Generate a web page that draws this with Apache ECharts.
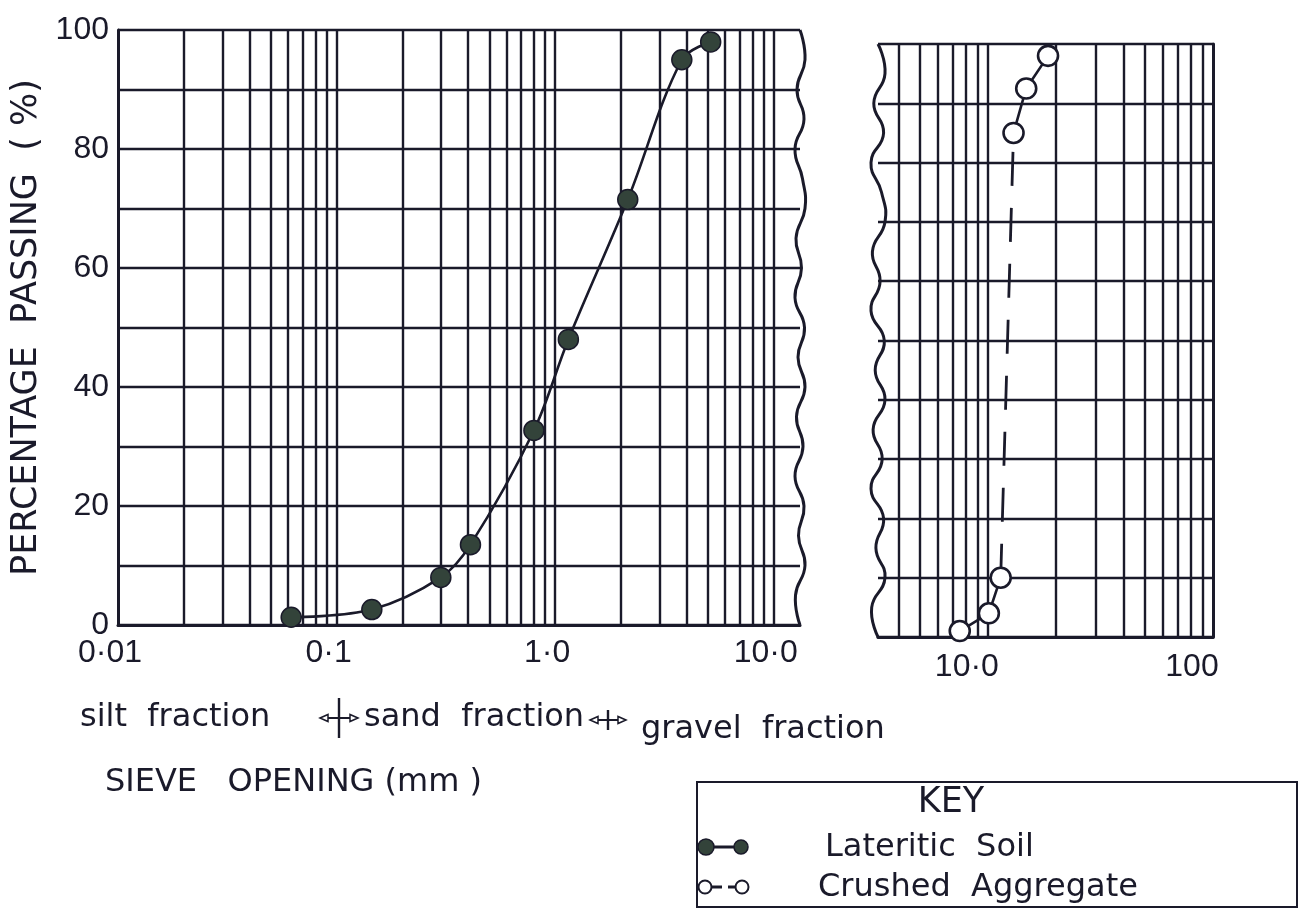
<!DOCTYPE html>
<html>
<head>
<meta charset="utf-8">
<script src="https://cdn.jsdelivr.net/npm/echarts@6/dist/echarts.min.js"></script>
<style>
html,body{margin:0;padding:0;background:#fff;}
#chart{width:1308px;height:920px;}
</style>
</head>
<body>
<div id="chart"></div>
<script>
// ---- data ----
const lateriticSize = [0.062, 0.145, 0.3, 0.41, 0.8, 1.15, 2.15, 3.8, 5.15];      // sieve opening (mm)
const lateriticPassing = [1.3, 2.6, 8, 13.5, 32.7, 48, 71.5, 95, 98];             // % passing
const aggregateSize = [7.5, 10.1, 11.4, 13.0, 14.8, 18.5];                        // sieve opening (mm)
const aggregatePassing = [1, 4, 10, 85, 92.5, 98];                                // % passing

// axis ticks / labels
const leftTickValues = [0.01, 0.1, 1, 10];
const leftTickLabels = ['0·01', '0·1', '1·0', '10·0'];
const rightTickValues = [10, 100];
const rightTickLabels = ['10·0', '100'];
const yLabelValues = [0, 20, 40, 60, 80, 100];
// vertical grid lines of the log paper
const leftGridLines = [0.02, 0.03, 0.04, 0.05, 0.06, 0.07, 0.08, 0.09, 0.1,
  0.2, 0.3, 0.4, 0.5, 0.6, 0.7, 0.8, 0.9, 1, 2, 3, 4, 5, 6, 7, 8, 9, 10];
const rightGridLines = [4, 5, 6, 7, 8, 9, 10, 20, 30, 40, 50, 60, 70, 80, 90];
// axis extents (broken axis)
const leftMin = 0.01, leftMax = 13.2;
const rightMin = 3.25, rightMax = 100;

const INK = '#1a1a2a';
const NUM_FONT = 'Liberation Sans';
const TXT_FONT = 'DejaVu Sans';

function labelFor(values, labels) {
  return function (v) {
    for (let i = 0; i < values.length; i++) {
      if (Math.abs(Math.log10(v) - Math.log10(values[i])) < 1e-6) return labels[i];
    }
    return '';
  };
}

const lateritic = lateriticSize.map((x, i) => [x, lateriticPassing[i]]);
const aggregate = aggregateSize.map((x, i) => [x, aggregatePassing[i]]);

const gridLineStyle = { color: INK, width: 2.4, type: 'solid' };

const option = {
  animation: false,
  backgroundColor: '#ffffff',
  grid: [
    { left: 118, top: 30, width: 682, height: 595 },
    { left: 878, top: 44, width: 335, height: 593 }
  ],
  xAxis: [
    {
      type: 'log', logBase: 10, gridIndex: 0, min: leftMin, max: leftMax,
      axisLine: { show: true, lineStyle: { color: INK, width: 3 } },
      axisTick: { show: false },
      splitLine: { show: false },
      axisLabel: {
        formatter: labelFor(leftTickValues, leftTickLabels),
        color: INK, fontSize: 32, fontFamily: NUM_FONT, margin: 12,
        padding: [0, 16, 0, 0],
        showMinLabel: true, showMaxLabel: true
      }
    },
    {
      type: 'log', logBase: 10, gridIndex: 1, min: rightMin, max: rightMax,
      axisLine: { show: true, lineStyle: { color: INK, width: 3 } },
      axisTick: { show: false },
      splitLine: { show: false },
      axisLabel: {
        formatter: labelFor(rightTickValues, rightTickLabels),
        color: INK, fontSize: 32, fontFamily: NUM_FONT, margin: 14,
        padding: [0, 42, 0, 0],
        showMinLabel: true, showMaxLabel: true
      }
    }
  ],
  yAxis: [
    {
      type: 'value', gridIndex: 0, min: 0, max: 100, interval: 10,
      name: 'PERCENTAGE  PASSING  ( %)',
      nameLocation: 'middle', nameRotate: 90, nameGap: 74,
      nameTextStyle: { color: INK, fontSize: 35, fontFamily: TXT_FONT },
      axisLine: { show: true, lineStyle: { color: INK, width: 3 } },
      axisTick: { show: false },
      splitLine: { show: true, lineStyle: gridLineStyle },
      axisLabel: {
        formatter: v => (yLabelValues.indexOf(v) >= 0 ? String(v) : ''),
        color: INK, fontSize: 32, fontFamily: NUM_FONT, margin: 9
      }
    },
    {
      type: 'value', gridIndex: 1, min: 0, max: 100, interval: 10,
      position: 'right',
      axisLine: { show: true, lineStyle: { color: INK, width: 3 } },
      axisTick: { show: false },
      splitLine: { show: true, lineStyle: gridLineStyle },
      axisLabel: { show: false }
    }
  ],
  series: [
    {
      name: 'Lateritic Soil', type: 'line', xAxisIndex: 0, yAxisIndex: 0,
      data: lateritic, smooth: 0.35, z: 10,
      symbol: 'circle', symbolSize: 20, showAllSymbol: true,
      lineStyle: { color: INK, width: 2.6 },
      itemStyle: { color: '#33433a', borderColor: INK, borderWidth: 1.5 },
      markLine: {
        silent: true, symbol: 'none', z: 2, animation: false,
        label: { show: false },
        lineStyle: gridLineStyle,
        data: leftGridLines.map(v => ({ xAxis: v }))
      }
    },
    {
      name: 'Crushed Aggregate', type: 'line', xAxisIndex: 1, yAxisIndex: 1,
      data: aggregate.slice(2, 4), z: 9, symbol: 'none',
      lineStyle: { color: INK, width: 2.8, type: [34, 22] }
    },
    {
      name: 'Crushed Aggregate', type: 'line', xAxisIndex: 1, yAxisIndex: 1,
      data: aggregate.slice(0, 3), z: 10,
      symbol: 'circle', symbolSize: 20, showAllSymbol: true,
      lineStyle: { color: INK, width: 2.6 },
      itemStyle: { color: '#ffffff', borderColor: INK, borderWidth: 2.6 },
      markLine: {
        silent: true, symbol: 'none', z: 2, animation: false,
        label: { show: false },
        lineStyle: gridLineStyle,
        data: rightGridLines.map(v => ({ xAxis: v }))
      }
    },
    {
      name: 'Crushed Aggregate', type: 'line', xAxisIndex: 1, yAxisIndex: 1,
      data: aggregate.slice(3), z: 10,
      symbol: 'circle', symbolSize: 20, showAllSymbol: true,
      lineStyle: { color: INK, width: 2.6 },
      itemStyle: { color: '#ffffff', borderColor: INK, borderWidth: 2.6 }
    }
  ]
};

const chart = echarts.init(document.getElementById('chart'), null, { renderer: 'canvas' });
chart.setOption(option);

// ---- decorations: wavy break borders, fraction note, axis title, key ----
function wavyPoints(x, yTop, yBot, amp) {
  const pts = [];
  const pattern = [0, 1, -0.6, 0.8, -1, 0.5, 1, -0.8, 0.3, -1, 0.9, -0.4, 1, -0.7, 0.6, -1, 0.8, -0.3, 1, -0.9, 0];
  const n = pattern.length - 1;
  for (let i = 0; i <= n; i++) {
    pts.push([x + amp * pattern[i], yTop + (yBot - yTop) * i / n]);
  }
  return pts;
}
const lTop = chart.convertToPixel({ gridIndex: 0 }, [leftMax, 100]);
const lBot = chart.convertToPixel({ gridIndex: 0 }, [leftMax, 0]);
const rTop = chart.convertToPixel({ gridIndex: 1 }, [rightMin, 100]);
const rBot = chart.convertToPixel({ gridIndex: 1 }, [rightMin, 0]);

function txt(text, x, y, size, align) {
  return {
    type: 'text', silent: true,
    style: {
      text: text, x: x, y: y, fill: INK,
      fontSize: size, fontFamily: TXT_FONT,
      align: align || 'left', verticalAlign: 'middle',
      textAlign: align || 'left', textVerticalAlign: 'middle'
    }
  };
}
// double-headed arrow with a vertical stroke (fraction boundary)
function boundaryArrow(x1, x2, y, tick) {
  const xm = (x1 + x2) / 2;
  const st = { stroke: INK, lineWidth: 2 };
  return [
    { type: 'line', silent: true, shape: { x1: x1 + 2, y1: y, x2: x2 - 2, y2: y }, style: st },
    { type: 'line', silent: true, shape: { x1: xm, y1: y - tick, x2: xm, y2: y + tick }, style: { stroke: INK, lineWidth: 2.4 } },
    { type: 'polygon', silent: true, shape: { points: [[x1, y], [x1 + 8, y - 3.5], [x1 + 8, y + 3.5]] }, style: { fill: '#fff', stroke: INK, lineWidth: 1.5 } },
    { type: 'polygon', silent: true, shape: { points: [[x2, y], [x2 - 8, y - 3.5], [x2 - 8, y + 3.5]] }, style: { fill: '#fff', stroke: INK, lineWidth: 1.5 } }
  ];
}

chart.setOption({
  graphic: [
    {
      type: 'polyline', silent: true,
      shape: { points: wavyPoints(lTop[0], lTop[1], lBot[1], 5), smooth: 0.5 },
      style: { stroke: INK, lineWidth: 3, fill: null }
    },
    {
      type: 'polyline', silent: true,
      shape: { points: wavyPoints(rTop[0], rTop[1], rBot[1], 7), smooth: 0.5 },
      style: { stroke: INK, lineWidth: 3, fill: null }
    },
    txt('silt  fraction', 80, 718, 32),
    ...boundaryArrow(320, 358, 718, 20),
    txt('sand  fraction', 364, 718, 32),
    ...boundaryArrow(590, 626, 720, 10),
    txt('gravel  fraction', 641, 730, 32),
    txt('SIEVE   OPENING (mm )', 105, 783, 32),
    {
      type: 'rect', silent: true,
      shape: { x: 697, y: 782, width: 600, height: 125 },
      style: { stroke: INK, lineWidth: 2, fill: null }
    },
    txt('KEY', 951, 803, 35, 'center'),
    { type: 'line', silent: true, shape: { x1: 706, y1: 847, x2: 740, y2: 847 }, style: { stroke: INK, lineWidth: 3 } },
    { type: 'circle', silent: true, shape: { cx: 706, cy: 847, r: 8 }, style: { fill: '#33433a', stroke: INK, lineWidth: 1.5 } },
    { type: 'circle', silent: true, shape: { cx: 741, cy: 847, r: 7 }, style: { fill: '#33433a', stroke: INK, lineWidth: 1.5 } },
    txt('Lateritic  Soil', 825, 848, 32),
    { type: 'line', silent: true, shape: { x1: 711, y1: 887, x2: 722, y2: 887 }, style: { stroke: INK, lineWidth: 3 } },
    { type: 'line', silent: true, shape: { x1: 728, y1: 887, x2: 736, y2: 887 }, style: { stroke: INK, lineWidth: 3 } },
    { type: 'circle', silent: true, shape: { cx: 705, cy: 887, r: 6.5 }, style: { fill: '#ffffff', stroke: INK, lineWidth: 2 } },
    { type: 'circle', silent: true, shape: { cx: 742, cy: 887, r: 6.5 }, style: { fill: '#ffffff', stroke: INK, lineWidth: 2 } },
    txt('Crushed  Aggregate', 818, 888, 32)
  ]
});
</script>
</body>
</html>
